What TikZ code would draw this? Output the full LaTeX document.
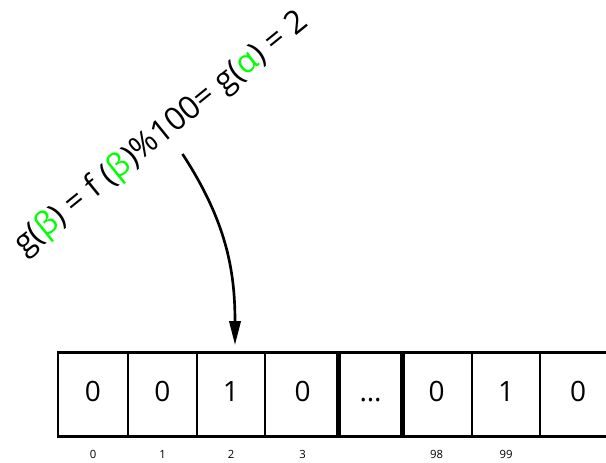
\documentclass[tikz,border=0pt]{standalone}
\usepackage{fontspec}
\setmainfont{Open Sans}
\usepackage{tikz}
\usetikzlibrary{positioning,arrows.meta}
\usepackage{xcolor}

\begin{document}
\begin{tikzpicture}[x=0.75pt, y=-0.75pt,
    cell/.style={draw, line width=2.1pt, inner sep=0pt, minimum height=63pt,
      font=\fontsize{21}{24}\selectfont, text height=15pt, text depth=4.5pt},
    idx/.style={inner sep=0pt, font=\fontsize{8.5}{10}\selectfont}]
  \useasboundingbox (0,0) rectangle (606,462);
  % bit array
  \foreach \l/\r/\val [count=\i from 0] in {
      58/128/0, 128/197/0, 197/265/1, 265/340/0,
      401/472/0, 472/540/1, 540/616/0, 340/401/\dots} {
    \node[cell, minimum width={(\r-\l)*0.75pt}] (c\i) at ({(\l+\r)/2},394.7) {\val};
  }
  \draw[line width=3.2pt] (c7.north west) -- (c7.south west)
    (c7.north east) -- (c7.south east);
  \foreach \i/\text in {0/0, 1/1, 2/2, 3/3, 4/98, 5/99}
    \node[idx, below=9pt of c\i] (n\i) {\text};
  % hash expression
  \node[rotate=39, inner sep=0pt, font=\fontsize{24}{28}\selectfont] (hash) at (161.5,134)
    {g(\textcolor{green}{β}) = f (\textcolor{green}{β})\%100= g(\textcolor{green}{α}) = 2};
  \coordinate (src) at (182.5,154);
  \coordinate (dst) at (235,345);
  \draw[line width=2pt, -{Triangle[length=18pt, width=8.5pt]}]
    (src) .. controls +(43.6,67) and +(0,-75) .. (dst);
\end{tikzpicture}
\end{document}
